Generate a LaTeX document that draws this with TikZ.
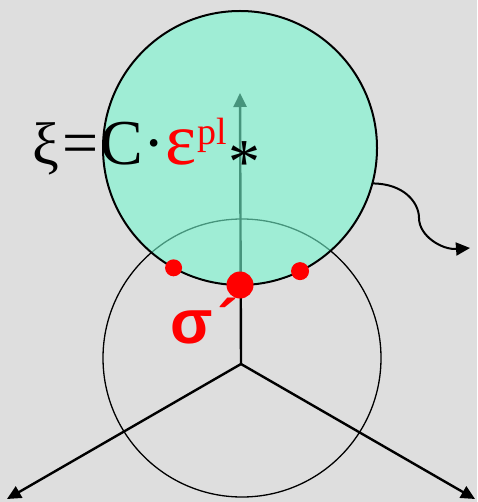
\documentclass[tikz,border=0pt]{standalone}
\usepackage{fontspec}
\usetikzlibrary{arrows.meta,positioning}
\newfontfamily\formulafont{Liberation Serif}
\newfontfamily\stressfont{Liberation Sans}
\definecolor{yieldTeal}{RGB}{118,248,208}
\definecolor{paperGray}{HTML}{DEDEDE}
\definecolor{stressRed}{HTML}{FF0000}

\begin{document}
\begin{tikzpicture}[x=1pt, y=1pt,
    surface/.style={circle, draw=black, inner sep=0pt, outer sep=0pt},
    arm/.style={-{Triangle[length=14pt, width=13pt]}, line width=2.4pt},
    flow/.style={-{Triangle[length=14pt, width=13pt]}, line width=2pt},
    dot/.style={circle, fill=stressRed, inner sep=0pt, outer sep=0pt},
    formula/.style={font=\formulafont\fontsize{64}{64}\selectfont, inner sep=0pt, anchor=base west}]
  \fill[paperGray] (0,0) rectangle (477,-502);
  \useasboundingbox (0,0) rectangle (477,-502);

  % initial surface and the three stress axes
  \node[surface, line width=1.3pt, minimum size=278pt] (initial) at (242,-358) {};
  \coordinate (origin) at (241,-364);
  \coordinate (s1) at (240,-93);
  \coordinate (s2) at (7,-499);
  \coordinate (s3) at (475,-499);
  \draw[arm] (origin) -- (s1);
  \draw[arm] (origin) -- (s2);
  \draw[arm] (origin) -- (s3);

  % shifted surface
  \node[surface, line width=2pt, fill=yieldTeal, fill opacity=0.6, minimum size=274pt] (yield) at (240,-148) {};
  \coordinate (drift) at (470,-248);
  \draw[flow] (yield.-15) .. controls +(32,0) and +(0,15) .. (419,-218)
    .. controls +(0,-18) and +(-28,-2) .. (drift);

  \node[dot, minimum size=27pt] (peak) at (yield.-90) {};
  \node[dot, minimum size=17pt] (left) at (yield.-119) {};
  \node[dot, minimum size=18pt] (right) at (yield.-64) {};

  % labels
  \node[formula, font=\formulafont\fontsize{60}{60}\selectfont] (xi) at (32,-165) {ξ};
  \node[formula] (eq) at (62,-165) {=\kern2pt C\kern1pt·};
  \node[formula, text=stressRed, font=\formulafont\fontsize{74}{74}\selectfont] (eps) at (165,-165) {ε};
  \node[formula, text=stressRed, font=\formulafont\fontsize{38}{38}\selectfont] (pl) at (197,-145) {pl};
  \node[formula, font=\formulafont\fontsize{64}{64}\selectfont] (star) at (228,-184) {*};
  \node[font=\stressfont\bfseries\fontsize{62}{62}\selectfont, text=stressRed, inner sep=0pt, anchor=base west] (sigma) at (170,-343) {σ\kern5pt´};
\end{tikzpicture}
\end{document}
